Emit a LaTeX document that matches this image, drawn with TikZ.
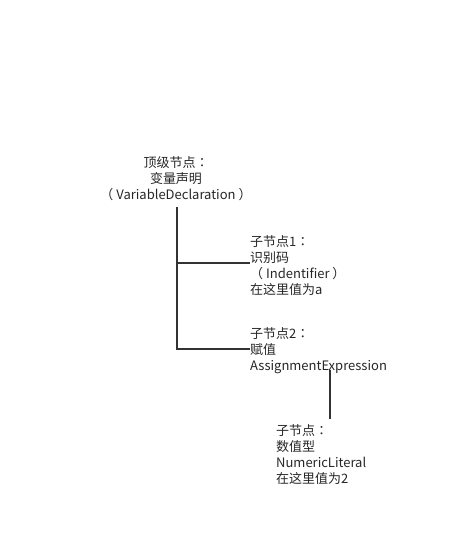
\documentclass[tikz,border=0pt]{standalone}
\usepackage{fontspec}
\setmainfont{Noto Sans CJK SC}
\newfontfamily\tcfont{Noto Sans CJK TC}
\newcommand{\cln}{{\tcfont ：}}
\begin{document}
\begin{tikzpicture}[x=1pt,y=-1pt,
  lbl/.style={inner sep=0pt, font=\fontsize{13}{16}\selectfont, text=black!85},
  conn/.style={draw=black!80, line width=1.6pt}]
\useasboundingbox (0,0) rectangle (472,549);
\node[lbl, align=center, anchor=north] (top) at (176,156) {顶级节点\cln\\变量声明\\（ VariableDeclaration ）};
\node[lbl, align=left, anchor=north west] (c1) at (250,235) {子节点1\cln\\识别码\\（ Indentifier ）\\在这里值为a};
\node[lbl, align=left, anchor=north west] (c2) at (250,327) {子节点2\cln\\赋值\\AssignmentExpression};
\node[lbl, align=left, anchor=north west] (c3) at (276,424) {子节点\cln\\数值型\\NumericLiteral\\在这里值为2};
\coordinate (j1) at (177,263);
\coordinate (j2) at (177,349);
\coordinate (a3) at (330,370);
\coordinate (b3) at (330,419);
\draw[conn] (177,207) -- (j2) -- (c2.west |- j2);
\draw[conn] (j1) -- (c1.west |- j1);
\draw[conn] (a3) -- (b3);
\end{tikzpicture}
\end{document}
